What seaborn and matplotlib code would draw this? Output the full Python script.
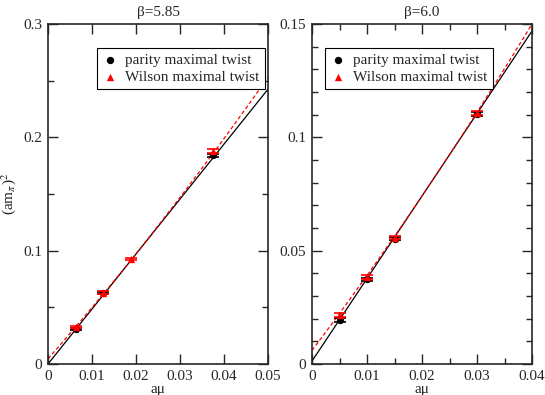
import numpy as np
import pandas as pd
import matplotlib
matplotlib.use("Agg")
import matplotlib.pyplot as plt
import seaborn as sns
from matplotlib.ticker import MultipleLocator

sns.set_style("ticks")
plt.rcParams['font.family'] = ['Liberation Serif', 'DejaVu Serif']
plt.rcParams['mathtext.fontset'] = 'stix'

# beta = 5.85
mu_585_par = [0.00625, 0.0125, 0.0375]
m2_585_par = [0.0312, 0.0625, 0.184]
mu_585_wil = [0.00625, 0.0125, 0.01875, 0.0375]
m2_585_wil = [0.0327, 0.0630, 0.0926, 0.188]
err_585_par = [0.0010, 0.0010, 0.0015]
err_585_wil = [0.0010, 0.0010, 0.0010, 0.0015]
fit_585_par = (0.0, 4.85, 0.0)      # a + b*mu + c*mu^2
fit_585_wil = (0.0045, 4.42, 11.0)

# beta = 6.0
mu_60_par = [0.005, 0.010, 0.015, 0.030]
m2_60_par = [0.0193, 0.0373, 0.0553, 0.1103]
mu_60_wil = [0.005, 0.010, 0.015, 0.030]
m2_60_wil = [0.0217, 0.0385, 0.0558, 0.1108]
err_60_par = [0.0008, 0.0008, 0.0008, 0.0010]
err_60_wil = [0.0008, 0.0008, 0.0008, 0.0010]
fit_60_par = (0.0013, 3.64, 0.0)
fit_60_wil = (0.006, 3.21, 9.75)

panels = [
    dict(title="β=5.85", xmax=0.05, ymax=0.3, xmaj=0.01, xmin=None, ymaj=0.1, ymin=0.05,
         xt=["0", "0.01", "0.02", "0.03", "0.04", "0.05"], yt=["0", "0.1", "0.2", "0.3"],
         par=(mu_585_par, m2_585_par, err_585_par), wil=(mu_585_wil, m2_585_wil, err_585_wil),
         fp=fit_585_par, fw=fit_585_wil, leg=(0.223, 0.93)),
    dict(title="β=6.0", xmax=0.04, ymax=0.15, xmaj=0.01, xmin=0.005, ymaj=0.05, ymin=0.01,
         xt=["0", "0.01", "0.02", "0.03", "0.04"], yt=["0", "0.05", "0.1", "0.15"],
         par=(mu_60_par, m2_60_par, err_60_par), wil=(mu_60_wil, m2_60_wil, err_60_wil),
         fp=fit_60_par, fw=fit_60_wil, leg=(0.059, 0.93)),
]

fig = plt.figure(figsize=(5.45, 3.95), dpi=100)
W, H = 545, 395
axes = [fig.add_axes([48 / W, 1 - 364 / H, 220 / W, 340 / H]),
        fig.add_axes([312 / W, 1 - 364 / H, 220 / W, 340 / H])]

for ax, p in zip(axes, panels):
    xs = np.linspace(0.0, p["xmax"], 200)
    a, b, c = p["fp"]
    dfp = pd.DataFrame({"x": xs, "y": a + b * xs + c * xs ** 2})
    a, b, c = p["fw"]
    dfw = pd.DataFrame({"x": xs, "y": a + b * xs + c * xs ** 2})
    sns.lineplot(data=dfp, x="x", y="y", ax=ax, color="black", lw=0.9, zorder=2)
    sns.lineplot(data=dfw, x="x", y="y", ax=ax, color="red", lw=0.9, linestyle=(0, (3, 2)), zorder=2)

    mx, my, me = p["par"]
    ax.errorbar(mx, my, yerr=me, fmt="none", ecolor="black", elinewidth=0.8, capsize=4, capthick=1.2, zorder=3)
    wx, wy, we = p["wil"]
    ax.errorbar(wx, wy, yerr=we, fmt="none", ecolor="red", elinewidth=0.8, capsize=4, capthick=1.2, zorder=4)
    sns.scatterplot(x=mx, y=my, ax=ax, color="black", marker="o", s=28, edgecolor="black",
                    linewidth=0, zorder=3, label="parity maximal twist")
    sns.scatterplot(x=wx, y=wy, ax=ax, color="red", marker="^", s=28, edgecolor="red",
                    linewidth=0, zorder=4, label="Wilson maximal twist")

    ax.set_xlim(0, p["xmax"])
    ax.set_ylim(0, p["ymax"])
    ax.xaxis.set_major_locator(MultipleLocator(p["xmaj"]))
    if p["xmin"]:
        ax.xaxis.set_minor_locator(MultipleLocator(p["xmin"]))
    ax.yaxis.set_major_locator(MultipleLocator(p["ymaj"]))
    ax.yaxis.set_minor_locator(MultipleLocator(p["ymin"]))
    ax.set_xticks(np.linspace(0, p["xmax"], len(p["xt"])))
    ax.set_xticklabels(p["xt"])
    ax.set_yticks(np.linspace(0, p["ymax"], len(p["yt"])))
    ax.set_yticklabels(p["yt"])
    ax.tick_params(which="both", direction="in", top=True, right=True, labelsize=11, width=1)
    ax.tick_params(which="major", length=7, pad=4)
    ax.tick_params(which="minor", length=4)
    for s in ax.spines.values():
        s.set_linewidth(1.2)
    ax.set_xlabel("aμ", fontsize=11, labelpad=0)
    ax.set_ylabel("")
    ax.set_title(p["title"], fontsize=11, pad=6)
    leg = ax.legend(loc="upper left", bbox_to_anchor=p["leg"], fontsize=11, frameon=True,
                    fancybox=False, edgecolor="black", framealpha=1, borderpad=0.35,
                    handletextpad=0.5, labelspacing=0.2, handlelength=1.0, borderaxespad=0)
    leg.get_frame().set_linewidth(0.8)

axes[0].set_ylabel(r"(am$_\pi$)$^2$", fontsize=11, labelpad=4)

fig.savefig("out.png", dpi=100)
